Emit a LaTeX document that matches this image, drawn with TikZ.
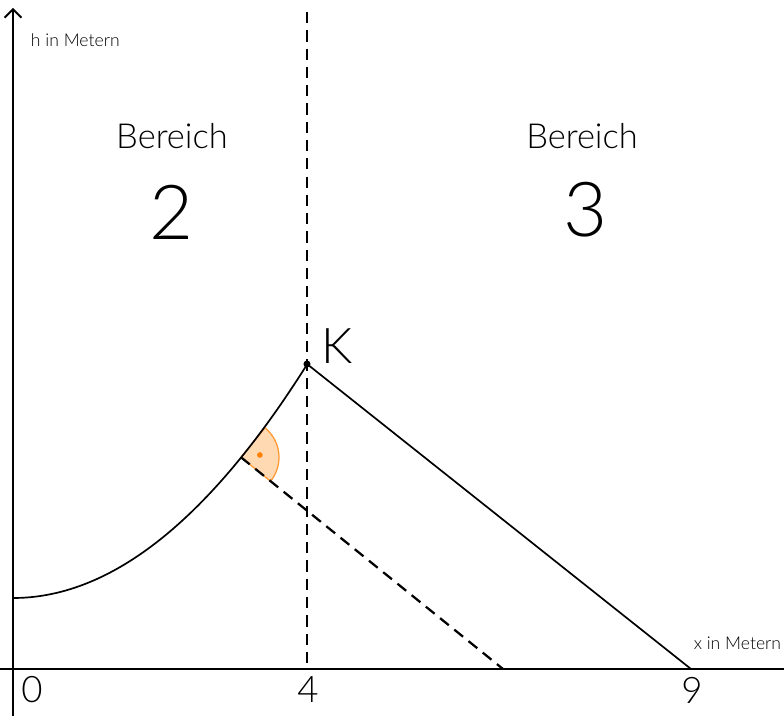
\documentclass[tikz,border=0pt]{standalone}
\usepackage{fontspec}
\setmainfont{Lato}[UprightFont=* Light]
\usetikzlibrary{arrows.meta}

\begin{document}
\begin{tikzpicture}[
    x=0.025cm, y=-0.025cm,
    axis/.style={line width=1.3pt, -{Straight Barb[length=6pt, width=12pt]}},
    curve/.style={line width=1.2pt},
    guide/.style={line width=1.6pt, dash pattern=on 8pt off 5pt},
    small/.style={font=\fontsize{12.5}{14}\selectfont},
    tick/.style={font=\fontsize{26}{28}\selectfont},
    region/.style={font=\fontsize{24.5}{28}\selectfont},
    bignum/.style={font=\fontsize{54}{58}\selectfont},
    rightangle/.style={fill=orange!30, draw=orange!80, line width=0.9pt}
]
    \useasboundingbox (0,0) rectangle (784,716);

    % Axes
    \coordinate (ybot) at (13,716);
    \coordinate (ytop) at (13,8);
    \coordinate (xleft) at (0,669);
    \coordinate (xright) at (798,669);
    \draw[axis] (ybot) -- (ytop);
    \draw[axis] (xleft) -- (xright);
    \node[small, anchor=west] (hlabel) at (26,40) {h in Metern};
    \node[small, anchor=east] (xlabel) at (786,643) {x in Metern};
    \node[tick] (t0) at (32,690) {0};
    \node[tick] (t4) at (308,690) {4};
    \node[tick] (t9) at (692,690) {9};

    % Regions
    \node[region] (bereich2) at (172,136) {Bereich};
    \node[bignum] (num2) at (172,212) {2};
    \node[region] (bereich3) at (582,136) {Bereich};
    \node[bignum] (num3) at (586,210) {3};

    % Border between the regions
    \coordinate (btop) at (307,12);
    \coordinate (bbot) at (307,669);
    \draw[guide] (btop) -- (bbot);

    % Hill profile
    \coordinate (start) at (13,598);
    \coordinate (K) at (307,364);
    \coordinate (end) at (691,669);
    \coordinate (foot) at (241,457.3);
    \coordinate (hit) at (503,669);
    \draw[rightangle] (foot) -- ++(-51:38) arc[start angle=-51, end angle=39, radius=38] -- cycle;
    \fill[orange] (foot) ++(-7:19) circle[radius=2pt];
    \draw[curve] plot[domain=13:307, samples=80] (\x, {598-0.002707*(\x-13)*(\x-13)});
    \draw[curve] (K) -- (end);
    \draw[guide] (foot) -- (hit);
    \fill (K) circle[radius=2.5pt];
    \node[font=\fontsize{35}{38}\selectfont] (klabel) at (337,346) {K};

\end{tikzpicture}
\end{document}
